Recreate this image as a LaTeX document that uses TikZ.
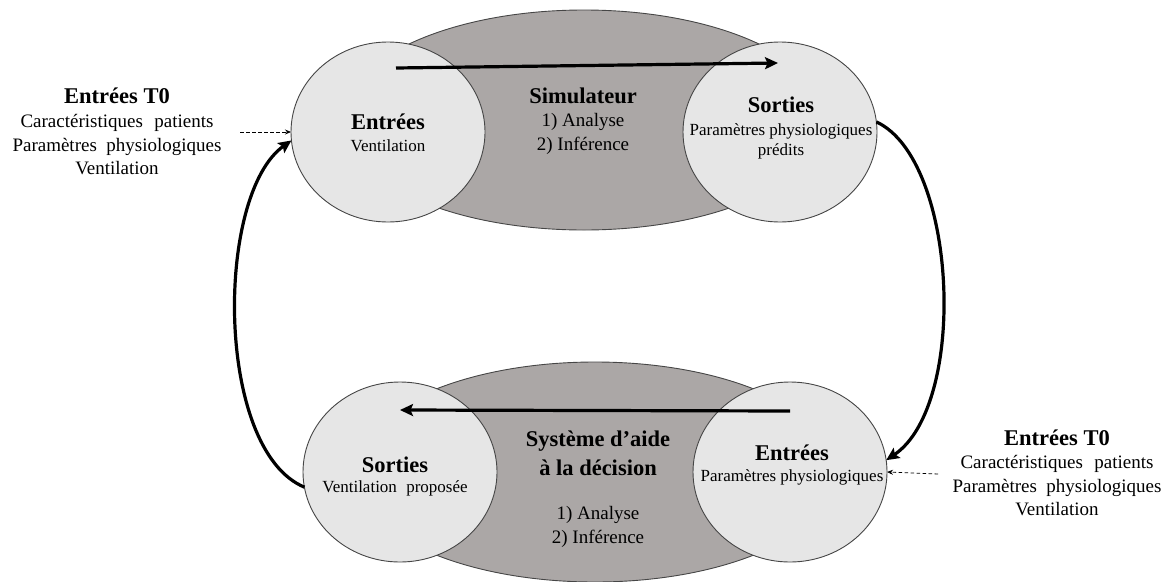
\documentclass[tikz,border=0pt]{standalone}
\usepackage{fontspec}
\setmainfont{Liberation Serif}
\usetikzlibrary{shapes.geometric,arrows.meta}
\definecolor{hubgray}{RGB}{171,167,166}
\definecolor{poolgray}{RGB}{230,230,230}
\definecolor{rimgray}{RGB}{70,70,70}
\begin{document}
\begin{tikzpicture}[x=1pt,y=-1pt,
  hub/.style={ellipse,draw=rimgray,line width=0.9pt,fill=hubgray,inner sep=0pt,outer sep=0pt,
    minimum width=484pt,minimum height=220pt},
  pool/.style={ellipse,draw=rimgray,line width=0.9pt,fill=poolgray,inner sep=0pt,outer sep=0pt,
    minimum width=194pt,minimum height=180pt},
  title/.style={font=\fontsize{22.5}{25}\selectfont\bfseries,inner sep=0pt},
  body/.style={font=\fontsize{19}{23.5}\selectfont,inner sep=0pt,align=center},
  small/.style={font=\fontsize{17}{20}\selectfont,inner sep=0pt,align=center},
  flow/.style={line width=3.2pt,-{Stealth[length=13pt,width=12pt,inset=2.5pt]}},
  feed/.style={line width=0.8pt,dash pattern=on 3.5pt off 2.5pt,-{Stealth[length=6pt,width=5pt]}}]
\useasboundingbox (0,0) rectangle (1169,581);

% the two process ellipses
\node[hub] (sim) at (584,120) {};
\node[hub] (dss) at (595,472) {};

% inputs / outputs of each process
\node[pool] (tl) at (388,132) {};
\node[pool] (tr) at (780,132) {};
\node[pool] (bl) at (400,472) {};
\node[pool] (br) at (790,472) {};

% simulator texts
\node[title] (simT) at (583,96) {Simulateur};
\node[body] (simA) at (583,122) {1) Analyse};
\node[body] (simB) at (583,146) {2) Inférence};

% decision support texts
\node[title] (dssT1) at (598,441) {Système d’aide};
\node[title] (dssT2) at (598,468) {à la décision};
\node[body] (dssA) at (598,515) {1) Analyse};
\node[body] (dssB) at (598,539) {2) Inférence};

% circle texts
\node[title] (tlT) at (388,122) {Entrées};
\node[small] (tlS) at (388,146) {Ventilation};
\node[title] (trT) at (781,105) {Sorties};
\node[small] (trS) at (781,141) {Paramètres physiologiques\\prédits};
\node[title] (blT) at (395,465) {Sorties};
\node[small] (blS) at (395,488) {Ventilation\hspace{0.55em}proposée};
\node[title] (brT) at (792,453) {Entrées};
\node[small] (brS) at (792,477) {Paramètres physiologiques};

% initial inputs
\node[title] (t0L) at (117,96) {Entrées T0};
\node[body] (t0Lb) at (117,145) {Caractéristiques\hspace{0.6em}patients\\Paramètres\hspace{0.5em}physiologiques\\Ventilation};
\node[title] (t0R) at (1057,438) {Entrées T0};
\node[body] (t0Rb) at (1057,486) {Caractéristiques\hspace{0.6em}patients\\Paramètres\hspace{0.5em}physiologiques\\Ventilation};

% flow through each process
\coordinate (simIn) at (396,68);
\coordinate (simOut) at (778,63);
\coordinate (dssIn) at (790,411);
\coordinate (dssOut) at (400,410);
\draw[flow] (simIn) -- (simOut);
\draw[flow] (dssIn) -- (dssOut);

% loop between the two processes
\draw[flow] (tr.6) .. controls (958,160) and (968,405) .. (br.7);
\draw[flow] (bl.189) .. controls (215,450) and (215,195) .. (tl.185);

% dashed initial inputs
\coordinate (feedL) at (240,132);
\coordinate (feedR) at (938,474);
\draw[feed] (feedL) -- (tl.west);
\draw[feed] (feedR) -- (br.east);
\end{tikzpicture}
\end{document}
